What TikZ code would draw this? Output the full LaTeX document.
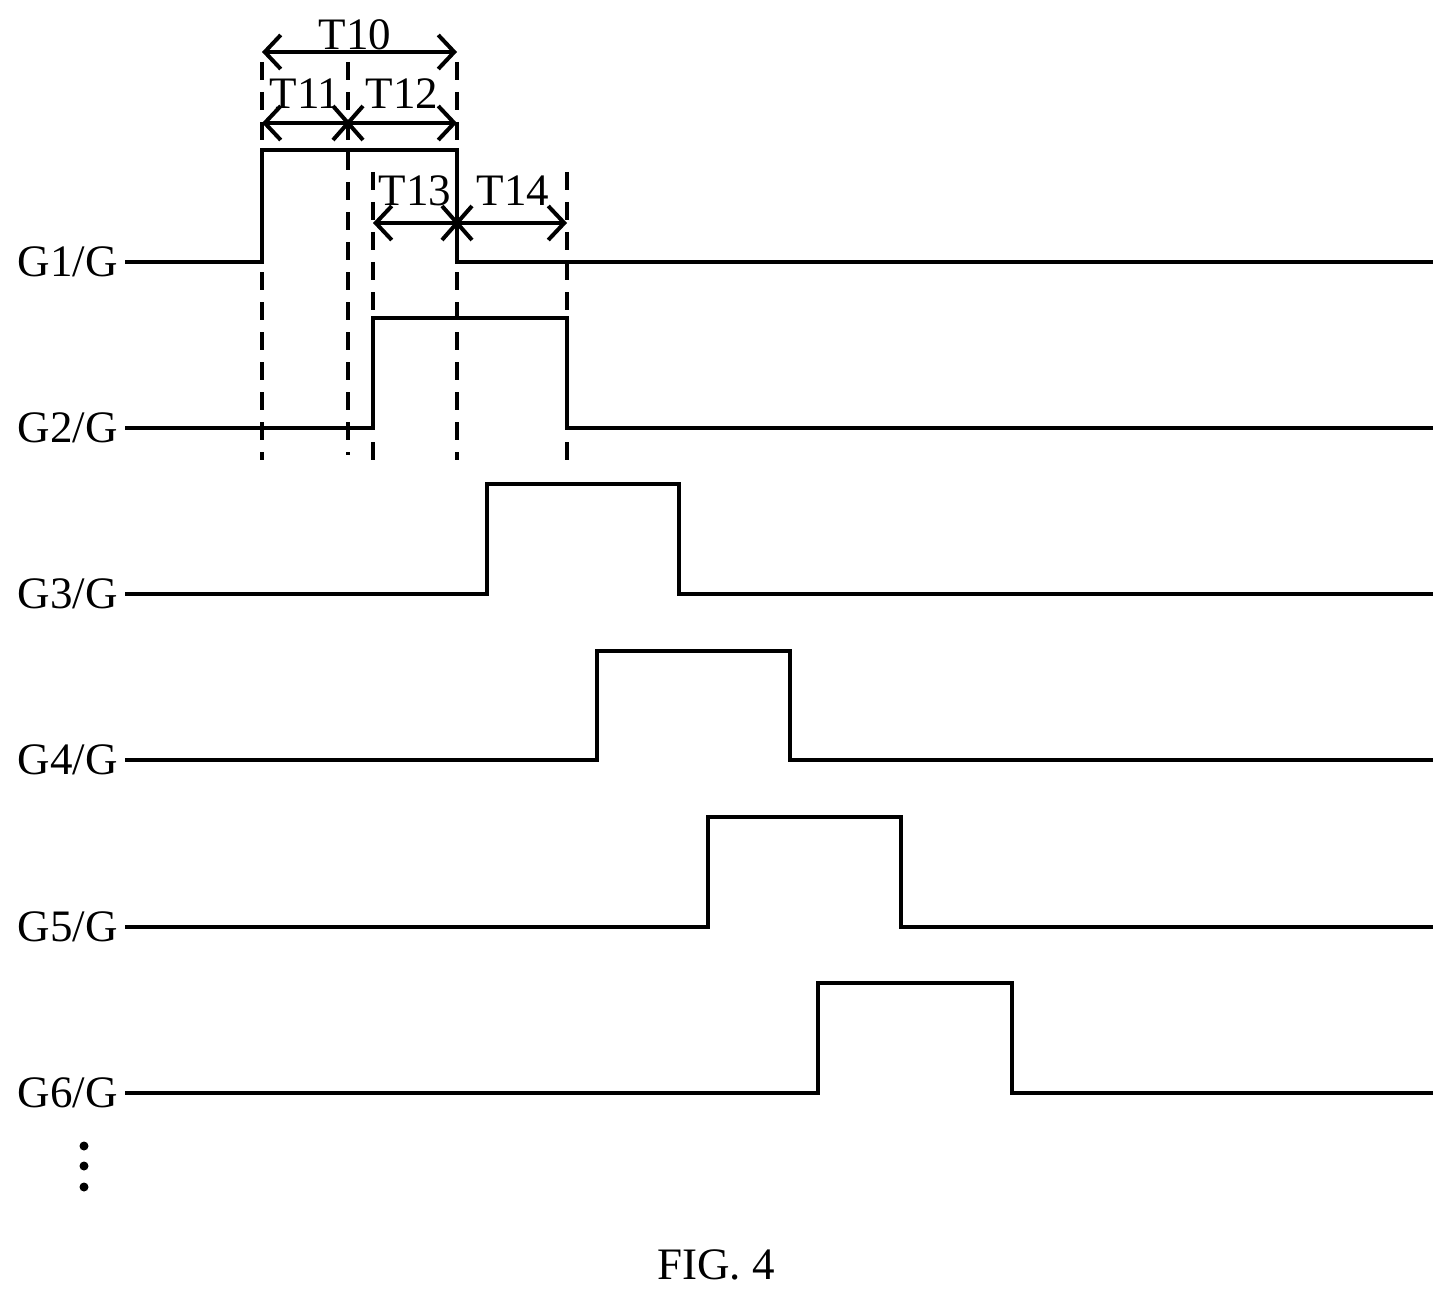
\documentclass[tikz,border=0pt]{standalone}
\usepackage{fontspec}
\setmainfont{Liberation Serif}
\usetikzlibrary{arrows.meta,calc}
\begin{document}
\begin{tikzpicture}[x=1pt,y=-1pt,line width=4.5pt,
  sig/.style={line join=miter},
  dsh/.style={dash pattern=on 18pt off 12pt},
  dim/.style={{Straight Barb[length=16pt,width=34pt,line width=4pt]}-{Straight Barb[length=16pt,width=34pt,line width=4pt]}},
  lab/.style={font=\fontsize{45}{48}\selectfont,anchor=east,inner sep=0},
  tl/.style={font=\fontsize{45}{48}\selectfont,inner sep=0}]
\useasboundingbox (0,0) rectangle (1454,1300);
% dashed guides
\draw[dsh] (262,62) -- (262,460);
\draw[dsh] (348,62) -- (348,455);
\draw[dsh] (373,172) -- (373,460);
\draw[dsh] (457,62) -- (457,460);
\draw[dsh] (567,172) -- (567,460);
% signals
\node[lab] (g1) at (120,262) {G1/G};
\node[lab] (g2) at (120,428) {G2/G};
\node[lab] (g3) at (120,594) {G3/G};
\node[lab] (g4) at (120,760) {G4/G};
\node[lab] (g5) at (120,927) {G5/G};
\node[lab] (g6) at (120,1093) {G6/G};
\draw[sig] (125,262) -- (262,262) -- (262,150) -- (457,150) -- (457,262) -- (1433,262);
\draw[sig] (125,428) -- (373,428) -- (373,318) -- (567,318) -- (567,428) -- (1433,428);
\draw[sig] (125,594) -- (487,594) -- (487,484) -- (679,484) -- (679,594) -- (1433,594);
\draw[sig] (125,760) -- (597,760) -- (597,651) -- (790,651) -- (790,760) -- (1433,760);
\draw[sig] (125,927) -- (708,927) -- (708,817) -- (901,817) -- (901,927) -- (1433,927);
\draw[sig] (125,1093) -- (818,1093) -- (818,983) -- (1012,983) -- (1012,1093) -- (1433,1093);
% dimensions
\coordinate (a0) at (262,52); \coordinate (a1) at (457,52);
\draw[dim] (a0) -- (a1);
\node[tl] (t10) at (355,35) {T10};
\coordinate (b0) at (262,123); \coordinate (b1) at (348,123); \coordinate (b2) at (457,123);
\draw[dim] (b0) -- (b2);
\draw[line width=4pt] ($(b1)+(-15,-17)$) -- ($(b1)+(15,17)$) ($(b1)+(-15,17)$) -- ($(b1)+(15,-17)$);
\node[tl] (t11) at (305,94) {T11};
\node[tl] (t12) at (402,94) {T12};
\coordinate (c0) at (373,223); \coordinate (c1) at (457,223); \coordinate (c2) at (567,223);
\draw[dim] (c0) -- (c2);
\draw[line width=4pt] ($(c1)+(-15,-17)$) -- ($(c1)+(15,17)$) ($(c1)+(-15,17)$) -- ($(c1)+(15,-17)$);
\node[tl] (t13) at (415,191) {T13};
\node[tl] (t14) at (513,191) {T14};
% dots
\foreach \yy in {1146,1166,1187} \fill (84,\yy) circle (4.5pt);
\node[tl] (fig) at (716,1265) {FIG. 4};
\end{tikzpicture}
\end{document}
